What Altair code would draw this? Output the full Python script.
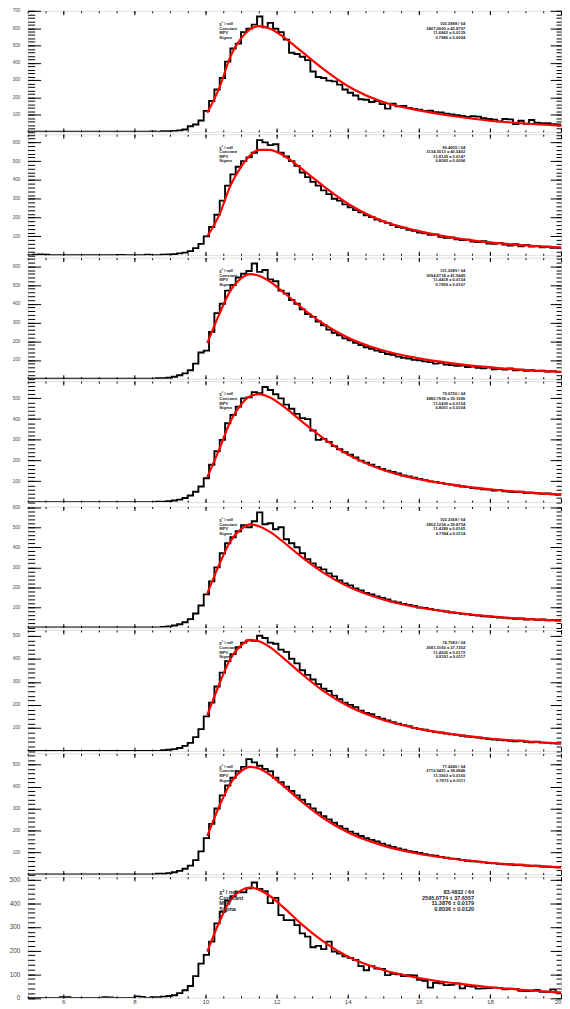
import altair as alt
import pandas as pd

# ---------------- data ----------------
X_LO, X_HI, N_BINS = 5.0, 20.0, 100
bin_edges = [round(X_LO + (X_HI - X_LO) * i / N_BINS, 3) for i in range(N_BINS + 1)]

x_major = [6, 8, 10, 12, 14, 16, 18, 20]
x_minor = [v / 2 for v in range(10, 41)]

counts_1 = [0,0,0,0,0,0,0,0,0,0,0,0,0,0,0,0,0,0,0,0,0,0,0,2,0,3,
            3,5,8,13,32,42,65,121,178,245,311,406,482,510,577,596,620,667,
            605,630,596,577,533,457,450,434,415,349,317,311,296,292,273,245,226,210,188,
            185,172,178,160,134,162,148,150,138,132,128,120,122,114,112,104,100,96,92,86,
            90,88,78,74,70,60,74,72,44,64,46,68,52,50,50,44,42]
counts_2 = [0,3,4,3,0,0,0,0,0,0,0,0,0,0,0,0,0,2,0,0,0,0,3,0,0,3,
            4,6,10,
            14,22,38,60,100,150,215,290,370,430,470,500,520,545,612,600,585,590,545,525,500,
            475,440,415,390,370,345,325,300,290,270,255,240,228,212,203,190,180,172,160,150,
            146,135,130,120,116,108,110,98,92,94,85,80,83,72,70,74,62,60,65,56,52,58,48,54,
            46,50,42,45,40,41]
counts_3 = [0,0,0,0,0,0,0,0,0,0,0,0,0,0,0,0,0,0,0,0,0,0,0,0,2,3,
            5,10,18,28,45,80,140,150,250,350,400,470,500,540,560,575,615,570,580,530,520,
            470,455,420,400,370,
            345,330,305,285,262,245,232,215,205,192,180,168,160,150,142,132,128,118,112,108,
            100,98,92,88,80,84,75,72,68,70,62,64,58,55,60,50,52,48,54,45,48,42,45,40,42,
            38,40,35]
counts_4 = [0,0,0,0,0,0,0,0,0,0,0,0,0,0,0,0,0,0,0,0,0,0,0,0,2,2,
            4,8,12,20,32,50,75,115,180,245,300,380,420,460,500,505,530,525,555,540,520,500,
            470,450,425,405,400,345,300,305,290,270,255,240,228,215,200,190,180,170,160,152,
            145,138,128,124,118,112,106,100,97,92,88,84,80,75,72,68,65,62,60,56,58,52,50,48,
            50,44,45,42,40,42,38,35]
counts_5 = [0,0,0,0,0,0,0,0,0,0,0,0,0,0,0,0,0,0,0,0,0,0,0,0,0,3,
            5,10,16,26,42,70,110,165,230,300,370,420,450,480,510,500,530,574,515,520,490,500,
            440,420,400,370,340,320,300,290,
            270,255,235,220,210,195,185,172,165,155,148,140,130,125,118,112,108,100,98,92,
            88,84,80,75,72,68,66,62,60,56,55,52,50,48,46,44,45,40,42,38,40,36,38,35]
counts_6 = [0,0,0,0,0,0,0,0,0,0,0,0,0,0,0,0,0,0,0,0,0,0,0,0,0,3,
            5,8,13,22,35,60,95,150,210,280,340,390,420,450,470,480,478,500,490,470,465,440,
            430,400,380,350,
            330,310,290,270,260,240,225,210,200,190,175,165,160,148,140,132,125,118,112,108,
            100,95,92,86,82,80,75,72,70,66,62,60,58,55,52,50,48,46,44,42,45,40,38,40,36,
            35,33,32]
counts_7 = [0,0,0,0,0,0,0,0,0,0,0,0,0,0,0,0,0,0,0,0,0,0,0,0,3,3,
            6,10,16,26,40,65,105,165,230,300,360,405,440,470,490,525,510,495,480,470,440,420,
            400,380,360,340,320,300,282,265,250,235,220,208,195,185,175,165,157,150,140,132,
            125,118,112,106,
            102,98,92,88,85,80,76,72,70,66,62,60,58,55,52,50,48,46,45,42,44,40,38,40,36,
            35,34,32]
counts_8 = [0,0,0,0,0,0,3,3,0,0,0,0,0,0,3,2,0,0,0,0,6,4,0,3,3,5,
            8,11,20,32,50,92,145,182,238,315,364,412,430,447,447,464,488,461,451,401,423,
            350,329,329,308,273,259,214,220,206,238,196,187,176,169,160,134,117,134,124,122,
            96,102,100,92,96,95,76,72,43,64,62,54,55,61,40,50,48,39,40,41,43,42,36,39,38,
            30,29,30,33,25,26,36,22]

counts = [counts_1, counts_2, counts_3, counts_4, counts_5, counts_6, counts_7, counts_8]
y_max = [700, 643, 646, 583, 603, 525, 551, 512]

fit_x = [10.05, 10.4, 10.7, 11.0, 11.25, 11.5, 11.8, 12.2, 12.7, 13.3, 14.0,
         15.0, 16.0, 17.0, 18.0, 19.0, 20.0]
fit_y = [
    [110, 260, 435, 540, 592, 611, 598, 548, 465, 365, 265, 172, 124, 90, 64, 48, 36],
    [100, 220, 370, 470, 530, 560, 560, 530, 460, 370, 275, 180, 128, 92, 68, 52, 40],
    [190, 350, 470, 535, 558, 550, 520, 460, 380, 295, 220, 150, 108, 80, 60, 46, 36],
    [120, 260, 390, 470, 510, 520, 505, 460, 390, 310, 230, 155, 110, 82, 62, 47, 37],
    [170, 320, 430, 490, 514, 505, 478, 425, 352, 275, 205, 140, 100, 75, 56, 43, 34],
    [155, 295, 400, 458, 482, 476, 452, 402, 335, 262, 196, 134, 96, 72, 54, 42, 33],
    [175, 315, 415, 470, 490, 482, 455, 402, 332, 258, 192, 131, 94, 70, 53, 41, 32],
    [196, 325, 415, 455, 467, 458, 432, 382, 312, 240, 175, 118, 84, 62, 45, 33, 22],
]

stat_names = ["χ² / ndf", "Constant", "MPV", "Sigma"]
stat_values = [
    ["105.5888 / 64", "3407.0000 ± 42.8797", "11.6862 ± 0.0139", "0.7880 ± 0.0094"],
    ["99.4605 / 64", "3134.3013 ± 40.5402", "11.8129 ± 0.0147", "0.8083 ± 0.0096"],
    ["131.2089 / 64", "3094.6734 ± 41.9445", "11.4418 ± 0.0154", "0.7859 ± 0.0107"],
    ["79.6750 / 64", "2880.7938 ± 39.1686", "11.6439 ± 0.0154", "0.8001 ± 0.0104"],
    ["102.2368 / 64", "2852.1234 ± 39.8754", "11.4289 ± 0.0165", "0.7994 ± 0.0114"],
    ["74.7583 / 64", "2681.3160 ± 37.7202", "11.4626 ± 0.0172", "0.8101 ± 0.0117"],
    ["77.4246 / 64", "2716.9451 ± 38.0846", "11.3903 ± 0.0165", "0.7872 ± 0.0111"],
    ["83.4832 / 64", "2595.0774 ± 37.6557", "11.3876 ± 0.0179", "0.8036 ± 0.0120"],
]

# ---------------- chart ----------------
W, H = 540, 122.5
FONT = "Liberation Sans"


def axis(orient, values, size, labels=False, fs=5, pad=0):
    kw = dict(orient=orient, values=values, tickSize={"expr": str(-size)},
              domain=False, grid=False, title=None, labels=labels,
              tickColor="black", tickWidth=1)
    if labels:
        kw.update(labelFont=FONT, labelFontSize=fs, labelColor="#444",
                  labelPadding=pad)
    else:
        kw.update(minExtent=0, maxExtent=0)
    return alt.Axis(**kw)


def make_panel(k):
    last = k == len(counts) - 1
    c = counts[k]
    assert len(c) == N_BINS, (k, len(c))
    hist = pd.DataFrame({"x": bin_edges, "y": c + [c[-1]]})
    fit = pd.DataFrame({"x": fit_x, "y": fit_y[k]})
    ym = y_max[k]
    xs = alt.Scale(domain=[X_LO, X_HI], nice=False, zero=False)
    ys = alt.Scale(domain=[0, ym], nice=False, zero=True)
    y_major = list(range(0 if last else 100, int(ym) + 1, 100))
    y_minor = list(range(0, int(ym) + 1, 20))
    lab_fs = 6.5 if last else 4.6

    base_h = alt.Chart(hist)
    a = base_h.mark_line(interpolate="step-after", color="black", strokeWidth=1.9,
                         clip=True).encode(
        x=alt.X("x:Q", scale=xs,
                axis=axis("bottom", x_major, 4, labels=last, fs=6.2, pad=5)),
        y=alt.Y("y:Q", scale=ys,
                axis=axis("left", y_major, 13, labels=True, fs=lab_fs, pad=21)),
    )
    b = alt.Chart(fit).mark_line(interpolate="monotone", color="#ff0000",
                                 strokeWidth=2.2, clip=True).encode(
        x=alt.X("x:Q", scale=xs, axis=axis("bottom", x_minor, 2)),
        y=alt.Y("y:Q", scale=ys, axis=axis("left", y_minor, 7)),
    )
    c1 = base_h.mark_point(opacity=0, size=0, strokeWidth=0, clip=True).encode(
        x=alt.X("x:Q", scale=xs, axis=axis("top", x_major, 4)),
        y=alt.Y("y:Q", scale=ys, axis=axis("right", y_major, 11)),
    )
    c2 = base_h.mark_point(opacity=0, size=0, strokeWidth=0, clip=True).encode(
        x=alt.X("x:Q", scale=xs, axis=axis("top", x_minor, 2)),
        y=alt.Y("y:Q", scale=ys, axis=axis("right", y_minor, 5)),
    )
    st = pd.DataFrame({"names": ["\n".join(stat_names)],
                       "vals": ["\n".join(stat_values[k])]})
    tfs = 5.6 if last else 4.2
    lh = 5.7 if last else 4.7
    t_top = 13.5 if last else 11.5
    names = alt.Chart(st).mark_text(
        align="left", baseline="top", lineBreak="\n", lineHeight=lh,
        font=FONT, fontSize=tfs, fontWeight="bold", color="#222",
    ).encode(text="names:N", x=alt.value(194), y=alt.value(t_top))
    vals = alt.Chart(st).mark_text(
        align="right", baseline="top", lineBreak="\n", lineHeight=lh,
        font=FONT, fontSize=tfs, fontWeight="bold", color="#222",
    ).encode(text="vals:N", x=alt.value(452 if last else 443), y=alt.value(t_top))

    return alt.layer(a, b, c1, c2, names, vals).resolve_axis(
        x="independent", y="independent").properties(width=W, height=H)


chart = alt.vconcat(*[make_panel(k) for k in range(len(counts))], spacing=0).properties(
    padding={"left": 0, "top": -7.5, "right": 0, "bottom": 0}
).configure_view(stroke="black", strokeWidth=3.2).configure(background="white")

chart.save("out.html", embed_options={"renderer": "svg", "actions": False})
